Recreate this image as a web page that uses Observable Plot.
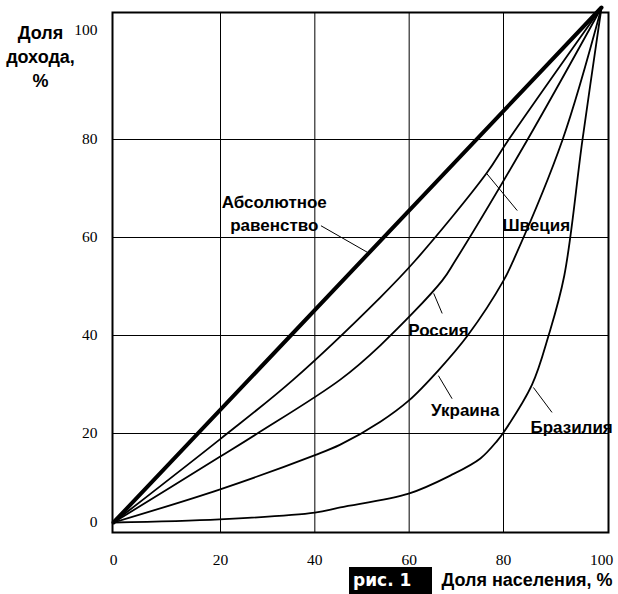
<!DOCTYPE html>
<html><head><meta charset="utf-8">
<script src="https://cdn.jsdelivr.net/npm/d3@7"></script>
<script src="https://cdn.jsdelivr.net/npm/@observablehq/plot@0.6"></script>
<style>
html,body{margin:0;padding:0;background:#fff;}
#wrap{position:relative;width:618px;height:594px;overflow:hidden;}
#fig{position:absolute;left:349px;top:567px;width:83px;height:27px;background:#000;color:#fff;
 font-family:"DejaVu Sans",sans-serif;font-weight:bold;font-size:17px;line-height:27px;padding-left:4px;box-sizing:border-box;white-space:pre;}
g[aria-label="curve-labels"] text, g[aria-label="axis-titles"] text {letter-spacing:-0.5px;}
</style></head>
<body><div id="wrap"><div id="chart"></div><div id="fig">рис. 1</div></div>
<script>
// ticks
const xTicks = [0, 20, 40, 60, 80, 100];
const yTicks = [0, 20, 40, 60, 80, 100];
const gridTicks = [20, 40, 60, 80];

// Lorenz curves: [population share %, income share %]
const equality = [[0, 0], [100, 100]];
const sweden = [[0,0],[20,18.8],[35.2,30.8],[53.9,47.8],[61.3,55.3],[76.4,73.1],[80.8,79.6],[100,100]];
const russia = [[0,0],[19.8,14.7],[27.8,20],[45.4,31.0],[53.9,38.0],[67.0,51.2],[69.8,55.3],[84.8,79.8],[100,100]];
const ukraine = [[0,0],[19.8,7.4],[39.9,15.1],[45.4,17.5],[53.9,22.4],[59.9,26.7],[66.2,32.9],[72.4,40],[80,51.2],[82.0,55.3],[92.0,79.8],[100,100]];
const brazil = [[0,0],[19.8,0.7],[40,2.2],[45.4,3.4],[59.9,6.5],[68.8,10.6],[75.1,14.4],[78.7,18.4],[80,20.2],[85.8,29.9],[89.2,40],[92.4,52.2],[96.1,79.8],[100,100]];

// annotations
const labelNames = ["Абсолютное\nравенство", "Швеция", "Россия", "Украина", "Бразилия"];
const labelX = [31.4, 86.7, 66.2, 71.9, 93.9];
const labelY = [65.2, 62.9, 41.4, 25.1, 21.6];
const leaderFrom = [[41.3, 62.4], [82.8, 65.5], [67.0, 44.5], [69.1, 27.1], [89.9, 24.3]];
const leaderTo = [[51.1, 57.0], [76.4, 73.1], [65.2, 48.6], [66.2, 31.8], [86.1, 29.4]];

const yTitle = "Доля\nдохода,\n%";
const xTitle = "Доля населения, %";

const sans = "'Liberation Sans Narrow', 'Arial Narrow', 'Liberation Sans', Arial, sans-serif";
const curveStyle = {stroke: "black", strokeWidth: 1.8, curve: "catmull-rom"};

const chart = Plot.plot({
  width: 618, height: 594,
  marginLeft: 112, marginRight: 10, marginTop: 12, marginBottom: 62,
  style: {background: "white", color: "black", fontFamily: "'Liberation Serif', 'Times New Roman', serif", fontSize: "15.5px"},
  x: {type: "linear", domain: [0, 20, 80, 100], range: [113, 220, 503, 601]},
  y: {type: "linear", domain: [0, 20, 80, 100], range: [522, 433, 139, 7]},
  marks: [
    Plot.gridX(gridTicks, {stroke: "black", strokeOpacity: 1, strokeWidth: 1}),
    Plot.gridY(gridTicks, {stroke: "black", strokeOpacity: 1, strokeWidth: 1}),
    Plot.frame({stroke: "black", strokeWidth: 2}),
    Plot.axisX(xTicks, {tickSize: 0, tickPadding: 21, label: null}),
    Plot.axisY(yTicks.filter(t => t < 100), {tickSize: 0, tickPadding: 15, label: null}),
    Plot.axisY(yTicks.filter(t => t === 100), {tickSize: 0, tickPadding: 15, dy: 23, label: null}),
    Plot.line(brazil, curveStyle),
    Plot.line(ukraine, curveStyle),
    Plot.line(russia, curveStyle),
    Plot.line(sweden, curveStyle),
    Plot.line(equality, {stroke: "black", strokeWidth: 4}),
    Plot.link(leaderFrom, {x1: (d) => d[0], y1: (d) => d[1], x2: (d, i) => leaderTo[i][0], y2: (d, i) => leaderTo[i][1], stroke: "black", strokeWidth: 1}),
    Plot.text(labelNames, {x: (d, i) => labelX[i], y: (d, i) => labelY[i], text: (d) => d, ariaLabel: "curve-labels",
      fontFamily: sans, fontWeight: "bold", fontSize: 17, lineHeight: 1.35, fill: "black"}),
    Plot.text([yTitle], {frameAnchor: "top-left", dx: -72, dy: 9, lineAnchor: "top", textAnchor: "middle", ariaLabel: "axis-titles",
      text: (d) => d, fontFamily: sans, fontWeight: "bold", fontSize: 18, lineHeight: 1.35, fill: "black"}),
    Plot.text([xTitle], {frameAnchor: "bottom-right", dx: 4, dy: 48, textAnchor: "end", lineAnchor: "middle", ariaLabel: "axis-titles",
      text: (d) => d, fontFamily: sans, fontWeight: "bold", fontSize: 18, fill: "black"})
  ]
});
document.getElementById("chart").appendChild(chart);
</script></body></html>
